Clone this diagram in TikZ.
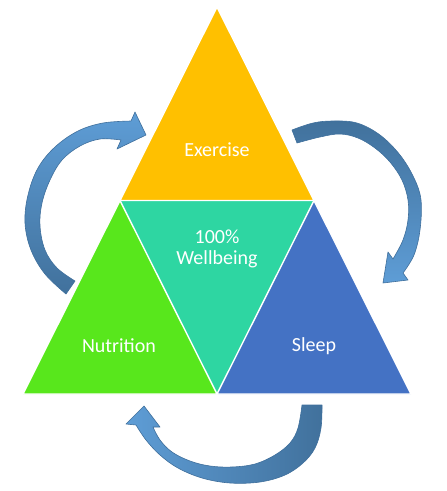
\documentclass[tikz,border=0pt]{standalone}
\usepackage{fontspec}
\setmainfont{Carlito}
\definecolor{exer}{HTML}{FFC000}
\definecolor{well}{HTML}{2ED6A2}
\definecolor{nutr}{HTML}{58E71C}
\definecolor{slp}{HTML}{4472C4}
\definecolor{arlight}{HTML}{5E9DD6}
\definecolor{ardark}{HTML}{41719C}
\definecolor{arline}{HTML}{3F6F9C}
\tikzset{
  tri/.style={draw=white, line width=1.4pt, line join=miter},
  lbl/.style={text=white, font=\fontsize{20}{21}\selectfont, align=center},
  bigarrow/.style={draw=arline, line width=0.6pt, line join=round}
}
\begin{document}
\begin{tikzpicture}[x=1pt,y=-1pt]
\path[use as bounding box] (0,0) rectangle (447,491);
% triangles
\coordinate (A) at (217,7);
\coordinate (L) at (23,394);
\coordinate (R) at (411,394);
\coordinate (ML) at (120,200.5);
\coordinate (MR) at (314,200.5);
\coordinate (MB) at (217,394);
\fill[exer] (A) -- (MR) -- (ML) -- cycle;
\fill[nutr] (ML) -- (MB) -- (L) -- cycle;
\fill[slp] (MR) -- (R) -- (MB) -- cycle;
\fill[well] (ML) -- (MR) -- (MB) -- cycle;
\draw[tri] (A) -- (MR) -- (ML) -- cycle;
\draw[tri] (ML) -- (MB) -- (L) -- cycle;
\draw[tri] (MR) -- (R) -- (MB) -- cycle;
% labels
\node[lbl] (ex) at (217,150) {Exercise};
\node[lbl] (wb) at (217,249) {100\%\\Wellbeing};
\node[lbl] (nu) at (119,346) {Nutrition};
\node[lbl] (sl) at (314,346) {Sleep};
% left arrow (Nutrition -> Exercise)
\shadedraw[bigarrow, top color=arlight, bottom color=ardark]
  plot[smooth, tension=0.6] coordinates {(66,294) (45,274) (31,250) (25,223) (28,195) (38,168) (55,147) (78,131) (103,123) (131,121)}
  -- (135,112) -- (146,135) -- (117,149) --
  plot[smooth, tension=0.6] coordinates {(121,140) (100,139) (80,146) (62,160) (50,180) (42,203) (40,226) (45,250) (57,268) (75,281)}
  -- cycle;
% right arrow (Exercise -> Sleep)
\shadedraw[bigarrow, top color=ardark, bottom color=arlight]
  plot[smooth, tension=0.6] coordinates {(292,130) (313,123) (333,121) (357,123) (380,135) (400,155) (414,178) (421,200) (420,230) (414,255) (403,273)}
  -- (408,280) -- (383,283) -- (388,252) --
  plot[smooth, tension=0.6] coordinates {(393,259) (403,240) (408,220) (408,200) (402,180) (390,162) (375,148) (358,138) (340,134) (320,137) (297,143)}
  -- cycle;
% bottom arrow (Sleep -> Nutrition)
\shadedraw[bigarrow, left color=arlight, right color=ardark]
  plot[smooth, tension=0.6] coordinates {(322,405) (321,428) (315,448) (303,463) (285,475) (260,482) (230,483) (202,478) (178,468) (160,455) (146,440) (136,425)}
  -- (126,424) -- (144,406) -- (160,427) --
  plot[smooth, tension=0.6] coordinates {(153,427) (160,440) (172,452) (190,461) (210,466) (232,467) (255,464) (275,455) (290,443) (298,428) (302,405)}
  -- cycle;
\end{tikzpicture}
\end{document}
